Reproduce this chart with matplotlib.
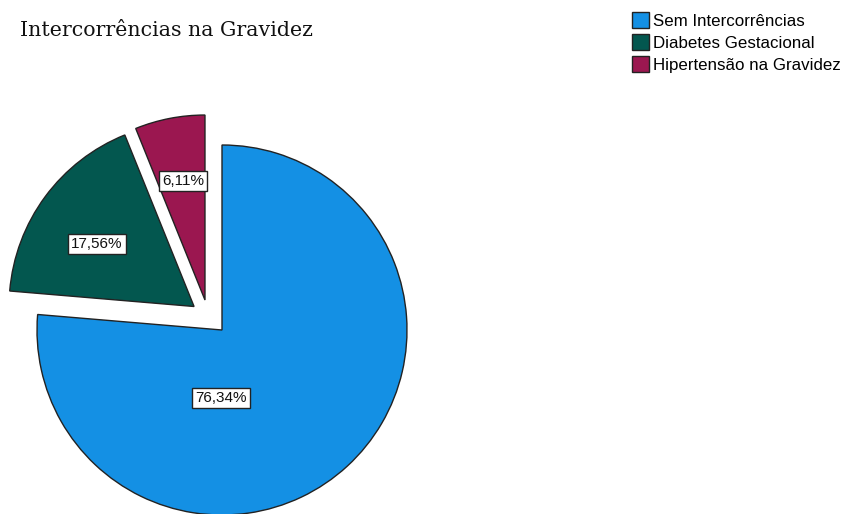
import matplotlib.pyplot as plt

# Dados (contagens: 100 + 23 + 8 = 131 gestantes)
categorias = ['Sem Intercorrências', 'Diabetes Gestacional', 'Hipertensão na Gravidez']
contagens = [100, 23, 8]
cores = ['#1490e4', '#03574f', '#9b1750']

# deslocamento de cada fatia (em raios) e posicao do rotulo
deslocamentos = [(0.0, 0.0), (-0.151, 0.127), (-0.092, 0.162)]
pos_rotulos = [(-0.005, -0.368), (-0.676, 0.465), (-0.211, 0.805)]

fig = plt.figure(figsize=(8.43, 5.14), dpi=100)
ax = fig.add_axes([0, 0, 1, 1])

fatias, textos, rotulos = ax.pie(
    contagens, colors=cores, startangle=90, counterclock=False,
    autopct=lambda p: f'{p:.2f}%'.replace('.', ','),
    wedgeprops=dict(edgecolor='#222222', linewidth=1.0),
    textprops=dict(fontsize=11, family='Liberation Sans', color='#111111'),
)

for fatia, (dx, dy) in zip(fatias, deslocamentos):
    fatia.set_center((dx, dy))

for rot, (x, y) in zip(rotulos, pos_rotulos):
    rot.set_position((x, y))
    rot.set_ha('center')
    rot.set_va('center')
    rot.set_bbox(dict(boxstyle='square,pad=0.22', facecolor='white',
                      edgecolor='#222222', linewidth=1.0))

# escala: raio = 185 px, centro em (222, 330) px
ax.set_xlim(-222 / 185, (843 - 222) / 185)
ax.set_ylim((330 - 514) / 185, 330 / 185)
ax.set_aspect('auto')
ax.axis('off')

fig.text(20 / 843, 1 - 31 / 514, 'Intercorrências na Gravidez',
         family='DejaVu Serif', fontsize=14.8, va='center', ha='left', color='#111111')

fig.legend(fatias, categorias, loc='upper left', bbox_to_anchor=(632 / 843, 1 - 12.5 / 514),
           frameon=False, prop=dict(family='Liberation Sans', size=12.2),
           handlelength=1.0, handleheight=1.0, handletextpad=0.25,
           labelspacing=0.33, borderpad=0, borderaxespad=0)

fig.savefig('out.png', dpi=100)
